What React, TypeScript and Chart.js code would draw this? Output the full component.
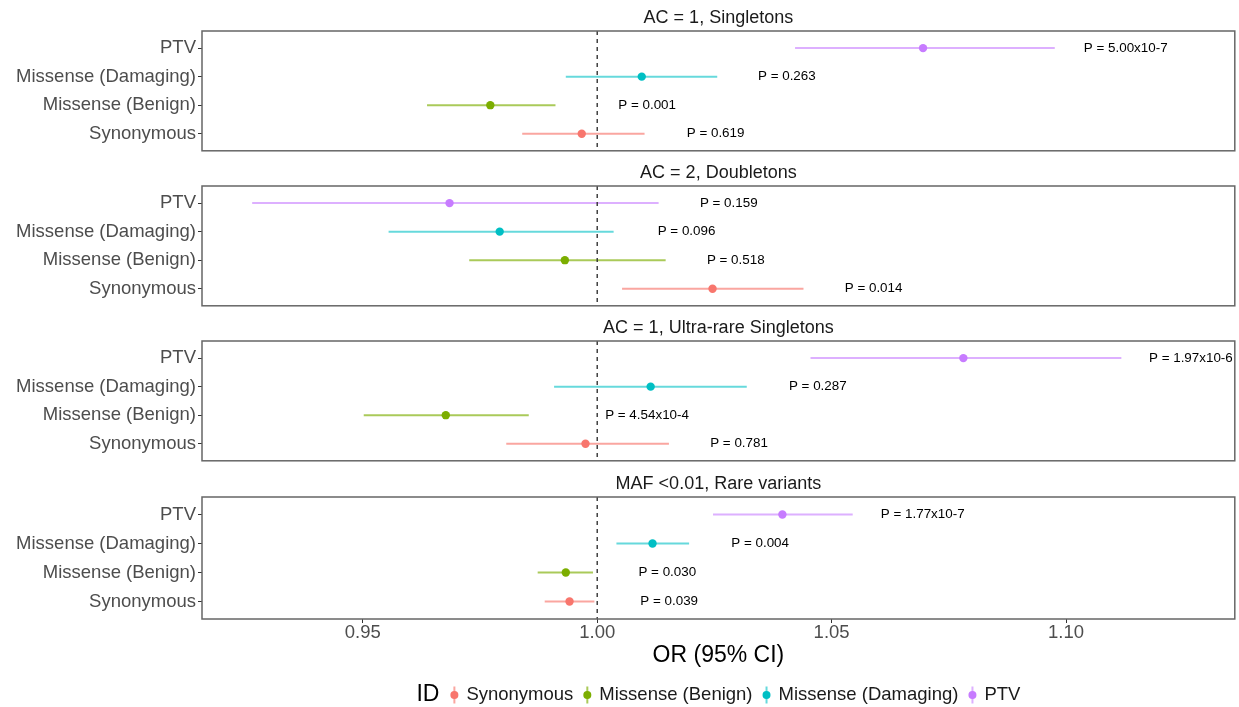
import React, { useEffect, useRef } from "react";
import { Chart, registerables } from "chart.js";

Chart.register(...registerables);

const FONT = "'Liberation Sans', Arial, Helvetica, sans-serif";

// Categories, bottom -> top within each panel
const categories = ["Synonymous", "Missense (Benign)", "Missense (Damaging)", "PTV"];
const pointColors = ["#F8766D", "#7CAE00", "#00BFC4", "#C77CFF"];
const lineColors = [
  "rgba(248,118,109,0.65)",
  "rgba(124,174,0,0.65)",
  "rgba(0,191,196,0.6)",
  "rgba(199,124,255,0.6)",
];

const panelTitles = [
  "AC = 1, Singletons",
  "AC = 2, Doubletons",
  "AC = 1, Ultra-rare Singletons",
  "MAF <0.01, Rare variants",
];

const xMin = 0.9157;
const xMax = 1.136;
const xTicks = [0.95, 1.0, 1.05, 1.1];
const refLine = 1.0;
const xTitle = "OR (95% CI)";
const legendTitle = "ID";

// AC = 1, Singletons
const singletonsOR = [0.9967, 0.9772, 1.0095, 1.0695];
const singletonsLow = [0.984, 0.9637, 0.9933, 1.0422];
const singletonsHigh = [1.0101, 0.9911, 1.0256, 1.0976];
const singletonsP = ["P = 0.619", "P = 0.001", "P = 0.263", "P = 5.00x10-7"];
const singletonsPAt = [1.0191, 1.0045, 1.0343, 1.1038];

// AC = 2, Doubletons
const doubletonsOR = [1.0246, 0.9931, 0.9792, 0.9685];
const doubletonsLow = [1.0053, 0.9727, 0.9555, 0.9264];
const doubletonsHigh = [1.044, 1.0146, 1.0035, 1.0131];
const doubletonsP = ["P = 0.014", "P = 0.518", "P = 0.096", "P = 0.159"];
const doubletonsPAt = [1.0528, 1.0234, 1.0129, 1.0219];

// AC = 1, Ultra-rare Singletons
const ultraOR = [0.9975, 0.9677, 1.0114, 1.0781];
const ultraLow = [0.9806, 0.9502, 0.9908, 1.0455];
const ultraHigh = [1.0153, 0.9854, 1.0319, 1.1118];
const ultraP = ["P = 0.781", "P = 4.54x10-4", "P = 0.287", "P = 1.97x10-6"];
const ultraPAt = [1.0241, 1.0017, 1.0409, 1.1177];

// MAF < 0.01, Rare variants
const rareOR = [0.9941, 0.9933, 1.0118, 1.0395];
const rareLow = [0.9888, 0.9873, 1.0041, 1.0247];
const rareHigh = [0.9994, 0.9991, 1.0196, 1.0545];
const rareP = ["P = 0.039", "P = 0.030", "P = 0.004", "P = 1.77x10-7"];
const rarePAt = [1.0092, 1.0088, 1.0286, 1.0605];

const panelOR = [singletonsOR, doubletonsOR, ultraOR, rareOR];
const panelLow = [singletonsLow, doubletonsLow, ultraLow, rareLow];
const panelHigh = [singletonsHigh, doubletonsHigh, ultraHigh, rareHigh];
const panelP = [singletonsP, doubletonsP, ultraP, rareP];
const panelPAt = [singletonsPAt, doubletonsPAt, ultraPAt, rarePAt];

const W = 1239;
const panelTops = [31, 186, 341, 497];
const PANEL_H = 122;
const PAD_TOP = 30;

function Panel({ index }: { index: number }) {
  const ref = useRef<HTMLCanvasElement | null>(null);
  const isLast = index === panelTitles.length - 1;
  const canvasTop = panelTops[index] - PAD_TOP;
  const height = isLast ? 707 - canvasTop : PAD_TOP + PANEL_H + 2;
  const xAxisH = isLast ? 50 : 0;
  const padBottom = height - PAD_TOP - PANEL_H - xAxisH;

  useEffect(() => {
    if (!ref.current) return;
    const or = panelOR[index];
    const low = panelLow[index];
    const high = panelHigh[index];
    const pTxt = panelP[index];
    const pAt = panelPAt[index];

    const datasets: any[] = [];
    categories.forEach((c, i) => {
      datasets.push({
        label: c + " CI",
        data: [
          { x: low[i], y: i },
          { x: high[i], y: i },
        ],
        showLine: true,
        borderColor: lineColors[i],
        backgroundColor: lineColors[i],
        borderWidth: 2,
        pointRadius: 0,
        pointHoverRadius: 0,
      });
    });
    categories.forEach((c, i) => {
      datasets.push({
        label: c,
        data: [{ x: or[i], y: i }],
        showLine: false,
        backgroundColor: pointColors[i],
        borderColor: pointColors[i],
        borderWidth: 0,
        pointRadius: 4.2,
        pointHoverRadius: 4.2,
      });
    });

    const facetPlugin = {
      id: "facet" + index,
      afterDatasetsDraw(chart: any) {
        const { ctx, chartArea, scales } = chart;
        const x = scales.x.getPixelForValue(refLine);
        ctx.save();
        ctx.strokeStyle = "#333333";
        ctx.lineWidth = 1.4;
        ctx.setLineDash([4, 4]);
        ctx.beginPath();
        ctx.moveTo(x, chartArea.top);
        ctx.lineTo(x, chartArea.bottom);
        ctx.stroke();
        ctx.restore();
      },
      afterDraw(chart: any) {
        const { ctx, chartArea, scales } = chart;
        ctx.save();
        // p-value labels
        ctx.fillStyle = "#000000";
        ctx.font = `13.4px ${FONT}`;
        ctx.textAlign = "left";
        ctx.textBaseline = "middle";
        categories.forEach((_, i) => {
          ctx.fillText(pTxt[i], scales.x.getPixelForValue(pAt[i]), scales.y.getPixelForValue(i));
        });
        // panel border
        ctx.strokeStyle = "#666666";
        ctx.lineWidth = 1.5;
        ctx.strokeRect(
          chartArea.left,
          chartArea.top,
          chartArea.right - chartArea.left,
          chartArea.bottom - chartArea.top
        );
        // strip title
        ctx.fillStyle = "#1a1a1a";
        ctx.font = `18px ${FONT}`;
        ctx.textAlign = "center";
        ctx.textBaseline = "middle";
        ctx.fillText(panelTitles[index], (chartArea.left + chartArea.right) / 2, chartArea.top - 13);

        if (isLast) {
          const ly = chart.height - 12;
          ctx.font = `23px ${FONT}`;
          const idW = ctx.measureText(legendTitle).width;
          ctx.font = `18.5px ${FONT}`;
          const labelWs = categories.map((c) => ctx.measureText(c).width);
          const total =
            idW + 15 + labelWs.reduce((a, b) => a + b, 0) + 12 * categories.length + 14 * (categories.length - 1);
          let cx = (chartArea.left + chartArea.right) / 2 - total / 2;
          ctx.textAlign = "left";
          ctx.fillStyle = "#000000";
          ctx.font = `23px ${FONT}`;
          ctx.fillText(legendTitle, cx, ly);
          cx += idW + 15;
          categories.forEach((c, i) => {
            ctx.strokeStyle = lineColors[i];
            ctx.lineWidth = 2;
            ctx.setLineDash([]);
            ctx.beginPath();
            ctx.moveTo(cx, ly - 8.5);
            ctx.lineTo(cx, ly + 8.5);
            ctx.stroke();
            ctx.fillStyle = pointColors[i];
            ctx.beginPath();
            ctx.arc(cx, ly, 4, 0, Math.PI * 2);
            ctx.fill();
            cx += 12;
            ctx.fillStyle = "#1a1a1a";
            ctx.font = `18.5px ${FONT}`;
            ctx.fillText(c, cx, ly);
            cx += labelWs[i] + 14;
          });
        }
        ctx.restore();
      },
    };

    const chart = new Chart(ref.current, {
      type: "scatter",
      data: { datasets },
      plugins: [facetPlugin],
      options: {
        animation: false,
        responsive: false,
        events: [],
        layout: { padding: { top: PAD_TOP, bottom: padBottom, left: 0, right: 2 } },
        plugins: {
          legend: { display: false },
          tooltip: { enabled: false },
          title: { display: false },
        },
        scales: {
          x: {
            type: "linear",
            min: xMin,
            max: xMax,
            display: isLast,
            afterBuildTicks: (s: any) => {
              s.ticks = xTicks.map((v) => ({ value: v }));
            },
            afterFit: (s: any) => {
              s.height = xAxisH;
              s.paddingLeft = 0;
              s.paddingRight = 0;
            },
            ticks: {
              callback: (v: any) => Number(v).toFixed(2),
              font: { family: FONT, size: 18.5, lineHeight: 1 },
              color: "#4d4d4d",
              padding: 1,
              maxRotation: 0,
              autoSkip: false,
            },
            grid: { drawOnChartArea: false, drawTicks: true, tickLength: 4, color: "#333333" },
            border: { display: false },
            title: {
              display: true,
              text: xTitle,
              font: { family: FONT, size: 23 },
              color: "#000000",
              padding: 0,
            },
          },
          y: {
            type: "linear",
            min: -0.6,
            max: 3.6,
            afterBuildTicks: (s: any) => {
              s.ticks = categories.map((_, i) => ({ value: i }));
            },
            afterFit: (s: any) => {
              s.width = 202;
              s.paddingTop = 0;
              s.paddingBottom = 0;
            },
            ticks: {
              callback: (v: any) => categories[Math.round(Number(v))],
              font: { family: FONT, size: 18.5 },
              color: "#4d4d4d",
              padding: 2,
              autoSkip: false,
            },
            grid: { drawOnChartArea: false, drawTicks: true, tickLength: 4, color: "#333333" },
            border: { display: false },
          },
        },
      } as any,
    });
    return () => chart.destroy();
  }, [index]);

  return (
    <canvas
      ref={ref}
      width={W}
      height={height}
      style={{ position: "absolute", left: 0, top: canvasTop, width: W, height, display: "block" }}
    />
  );
}

export default function App() {
  return (
    <div
      style={{
        position: "absolute",
        left: 0,
        top: 0,
        width: W,
        height: 707,
        background: "#ffffff",
        overflow: "hidden",
      }}
    >
      {panelTitles.map((_, i) => (
        <Panel key={i} index={i} />
      ))}
    </div>
  );
}
